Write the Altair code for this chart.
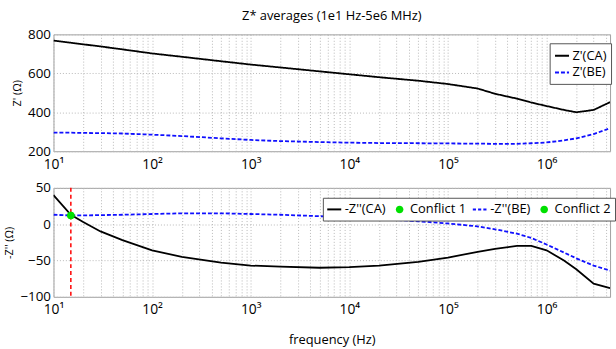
import altair as alt
import pandas as pd

# ---------------- data ----------------
freq = [10, 15, 20, 30, 50, 100, 200, 500, 1e3, 2e3, 5e3, 1e4, 2e4, 5e4,
        1e5, 2e5, 3e5, 5e5, 7e5, 1e6, 1.5e6, 2e6, 3e6, 4.4e6]
zr_ca = [768, 757, 749, 738, 723, 702, 685, 662, 645, 630, 610, 595, 580, 562,
         545, 522, 495, 470, 450, 432, 412, 400, 412, 452]
zr_be = [295, 295, 294, 293, 291, 285, 278, 266, 258, 252, 247, 244, 242, 241,
         240, 239, 238, 238, 241, 245, 256, 266, 288, 318]
zi_ca = [40, 13, 3, -10, -22, -36, -45, -53, -57, -58.5, -60, -59, -57, -52,
         -46, -38, -34, -30, -30, -36, -50, -62, -82, -88]
zi_be = [13, 12, 12, 12.5, 13, 14, 15, 15, 14, 13, 11, 9, 7, 4,
         1, -3, -7, -13, -19, -28, -39, -47, -57, -64]

conflict_names = ["Conflict 1", "Conflict 2"]
conflict_freq = [15, 15]
conflict_val = [12, 12]
marker_freq = [15]

top_names = ["Z'(CA)", "Z'(BE)"]
bottom_names = ["-Z''(CA)", "Conflict 1", "-Z''(BE)", "Conflict 2"]

decade_vals = [10, 100, 1000, 10000, 100000, 1000000]
decade_labels = ["10¹", "10²", "10³", "10⁴", "10⁵", "10⁶"]
top_ticks = [200, 400, 600, 800]
bottom_ticks = [-100, -50, 0, 50]

x_domain = [10, 4.4e6]

# ---------------- helpers ----------------
FONT = "Open Sans"
grid_vals = [m * 10 ** k for k in range(1, 7) for m in range(1, 10) if m * 10 ** k <= x_domain[1]]
label_expr = "''"
for v, lab in reversed(list(zip(decade_vals, decade_labels))):
    label_expr = f"datum.value == {v} ? '{lab}' : ({label_expr})"

BLACK, BLUE, GREEN, RED = "#000000", "#1010ff", "#00e000", "#ff0000"

# legend symbol shapes (unit-box SVG paths)
SYM_LINE = "M-1,-0.14H1V0.14H-1Z"
SYM_DASH = "M-1,-0.14H-0.55V0.14H-1Z M-0.25,-0.14H0.2V0.14H-0.25Z M0.5,-0.14H0.95V0.14H0.5Z"
SYM_DOT = "M0.54,0A0.54,0.54,0,1,1,-0.54,0A0.54,0.54,0,1,1,0.54,0Z"


def x_enc(title=None):
    return alt.X(
        "f:Q",
        scale=alt.Scale(type="log", domain=x_domain, nice=False),
        axis=alt.Axis(values=grid_vals, labelExpr=label_expr, title=title,
                      labelFontSize=14, labelPadding=6, ticks=False, labelFlush=False,
                      titleFontSize=13, titlePadding=17, titleFontWeight="normal"),
    )


def y_enc(domain, ticks, title):
    return alt.Y("v:Q", scale=alt.Scale(domain=domain, nice=False, zero=False),
                 axis=alt.Axis(values=ticks, title=title, labelFontSize=13.5,
                               labelPadding=3, ticks=False, titleFontSize=11,
                               titleFontWeight="normal", titlePadding=5,
                               labelOverlap=False, labelFlush=False))


# ---------------- top panel ----------------
n = len(freq)
top_df = pd.DataFrame({"f": freq * 2, "v": zr_ca + zr_be,
                       "s": [top_names[0]] * n + [top_names[1]] * n})

legend_top = alt.Legend(
    title=None, orient="none", legendX=501, legendY=9, direction="vertical",
    fillColor="white", strokeColor="#555555", padding=4,
    labelFont=FONT, labelFontSize=13, labelColor="black", labelOffset=2,
    symbolType="stroke", symbolSize=200, symbolStrokeWidth=2, rowPadding=1,
)

top = alt.Chart(top_df).mark_line(strokeWidth=1.8, clip=True).encode(
    x=x_enc(),
    y=y_enc([200, 800], top_ticks, "Z' (Ω)"),
    color=alt.Color("s:N", scale=alt.Scale(domain=top_names, range=[BLACK, BLUE]),
                    legend=legend_top),
    strokeDash=alt.StrokeDash("s:N", scale=alt.Scale(domain=top_names, range=[[1, 0], [4, 2]]),
                              legend=legend_top),
).properties(
    width=562, height=118,
    title=alt.TitleParams("Z* averages (1e1 Hz-5e6 MHz)", fontSize=13, font=FONT,
                          fontWeight="normal", anchor="middle", offset=5),
)

# ---------------- bottom panel ----------------
ca_df = pd.DataFrame({"f": freq, "v": zi_ca})
be_df = pd.DataFrame({"f": freq, "v": zi_be})
conf_df = pd.DataFrame({"f": conflict_freq, "v": conflict_val, "s": conflict_names})
mark_df = pd.DataFrame({"f": marker_freq})

legend_bot = alt.Legend(
    title=None, orient="none", legendX=272, legendY=10, direction="horizontal",
    fillColor="white", strokeColor="#555555", padding=4, columns=4, columnPadding=6,
    labelFont=FONT, labelFontSize=13, labelColor="black", labelOffset=3,
    symbolSize=200, symbolStrokeWidth=0, symbolOpacity=1,
)

color_scale = alt.Scale(domain=bottom_names, range=[BLACK, GREEN, BLUE, GREEN])
y_bot = y_enc([-100, 50], bottom_ticks, "-Z'' (Ω)")
x_bot = x_enc("frequency (Hz)")

ca_line = alt.Chart(ca_df).mark_line(strokeWidth=1.8, clip=True, color=BLACK).encode(
    x=x_bot, y=y_bot,
)
be_line = alt.Chart(be_df).mark_line(strokeWidth=1.8, clip=True, color=BLUE,
                                     strokeDash=[4, 2]).encode(
    x=x_bot, y=y_bot,
)
bot_rule = alt.Chart(mark_df).mark_rule(color=RED, strokeDash=[4, 3], strokeWidth=1.5).encode(
    x=x_bot,
)
bot_points = alt.Chart(conf_df).mark_point(filled=True, size=200, opacity=1).encode(
    x=x_bot, y=y_bot,
    color=alt.Color("s:N", scale=color_scale, legend=legend_bot),
    shape=alt.Shape("s:N", scale=alt.Scale(domain=bottom_names,
                                           range=[SYM_LINE, SYM_DOT, SYM_DASH, SYM_DOT]),
                    legend=legend_bot),
)

bottom = alt.layer(ca_line, be_line, bot_rule, bot_points).properties(width=562, height=110)

chart = alt.vconcat(top, bottom, spacing=37, bounds="flush").resolve_scale(
    color="independent", strokeDash="independent", shape="independent",
).resolve_legend(
    color="independent", strokeDash="independent", shape="independent",
).properties(
    padding={"left": 3, "top": 7, "right": 0, "bottom": 0},
    background="white",
).configure_view(
    stroke="#a0a0a0", strokeWidth=1,
).configure_axis(
    labelFont=FONT, titleFont=FONT, labelColor="black", titleColor="black",
    gridColor="#b8b8b8", gridDash=[1, 2], gridWidth=1, domain=False,
)

chart.save("out.html", embed_options={"renderer": "svg", "actions": False})
